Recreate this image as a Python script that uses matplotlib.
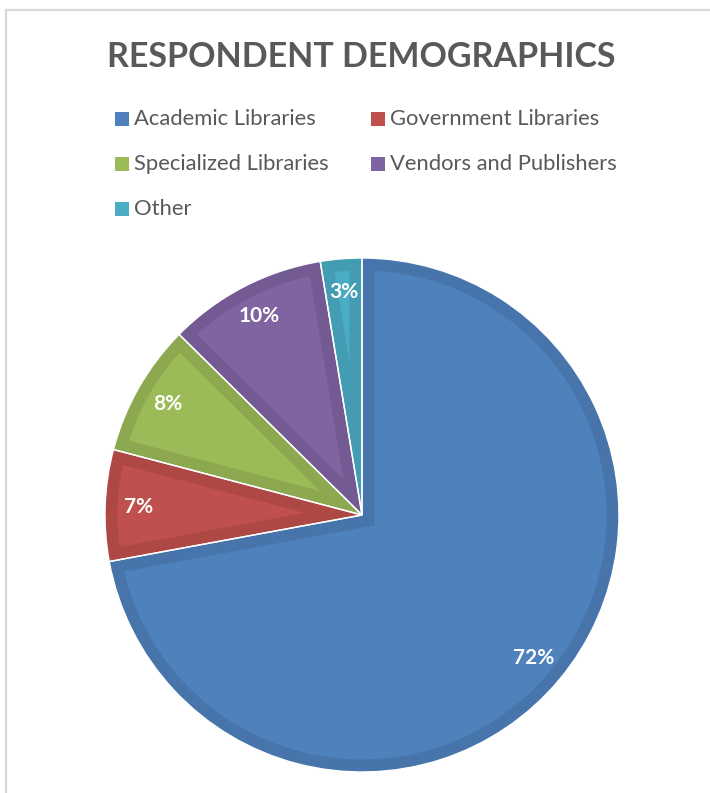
import matplotlib
matplotlib.use("Agg")
import matplotlib.pyplot as plt
from matplotlib.patches import Rectangle, Wedge
from matplotlib.lines import Line2D

categories = ["Academic Libraries", "Government Libraries", "Specialized Libraries",
              "Vendors and Publishers", "Other"]
values = [72.1, 7.0, 8.3, 10.0, 2.6]
fill_colors = ["#4F81BD", "#C0504D", "#9BBB59", "#8064A2", "#4BACC6"]
edge_colors = ["#4775AB", "#AD4845", "#8CA950", "#735A92", "#449CB3"]
title = "RESPONDENT DEMOGRAPHICS"

W, H = 710, 793
fig = plt.figure(figsize=(W / 100, H / 100), dpi=100)
fig.patch.set_facecolor("white")

# chart frame (left and top edges visible)
fig.add_artist(Line2D([6 / W, 6 / W], [0, 1 - 10 / H], color="#D9D9D9", lw=1.6))
fig.add_artist(Line2D([6 / W, 1], [1 - 10 / H, 1 - 10 / H], color="#D9D9D9", lw=1.6))

font = "Lato"
text_grey = "#595959"

fig.text(361 / W, 1 - 67 / H, title, ha="center", va="baseline", fontsize=24.5,
         fontweight="bold", color=text_grey, family=font)

# legend (manual placement)
leg_pos = [(115, 125), (371, 125), (115, 170), (371, 170), (115, 215)]
for (x, y), lab, c in zip(leg_pos, categories, fill_colors):
    fig.add_artist(Rectangle((x / W, 1 - (y + 1) / H), 14 / W, 14 / H,
                             transform=fig.transFigure, facecolor=c, edgecolor="none"))
    fig.text((x + 19) / W, 1 - y / H, lab, ha="left", va="baseline", fontsize=15.8,
             color=text_grey, family=font)

# pie
cx, cy, r = 362, 515, 257
ax = fig.add_axes([(cx - r) / W, (H - cy - r) / H, 2 * r / W, 2 * r / H])
wedges, texts, autotexts = ax.pie(values, colors=fill_colors, startangle=90,
                                  counterclock=False, autopct="%.0f%%",
                                  pctdistance=0.87,
                                  wedgeprops=dict(edgecolor="white", linewidth=1.0),
                                  textprops=dict(color="white", fontsize=15,
                                                 fontweight="bold", family=font))
# inner darker border on each wedge
for w, ec in zip(wedges, edge_colors):
    border = Wedge(w.center, w.r, w.theta1, w.theta2, facecolor="none", edgecolor=ec,
                   linewidth=18, zorder=w.get_zorder() + 0.1)
    ax.add_patch(border)
    border.set_clip_path(w)
    sep = Wedge(w.center, w.r, w.theta1, w.theta2, facecolor="none", edgecolor="white",
                linewidth=1.0, zorder=w.get_zorder() + 0.2)
    ax.add_patch(sep)
for t in autotexts:
    t.set_zorder(10)
ax.set_xlim(-1, 1)
ax.set_ylim(-1, 1)
ax.axis("off")

fig.savefig("out.png", dpi=100, facecolor="white")
